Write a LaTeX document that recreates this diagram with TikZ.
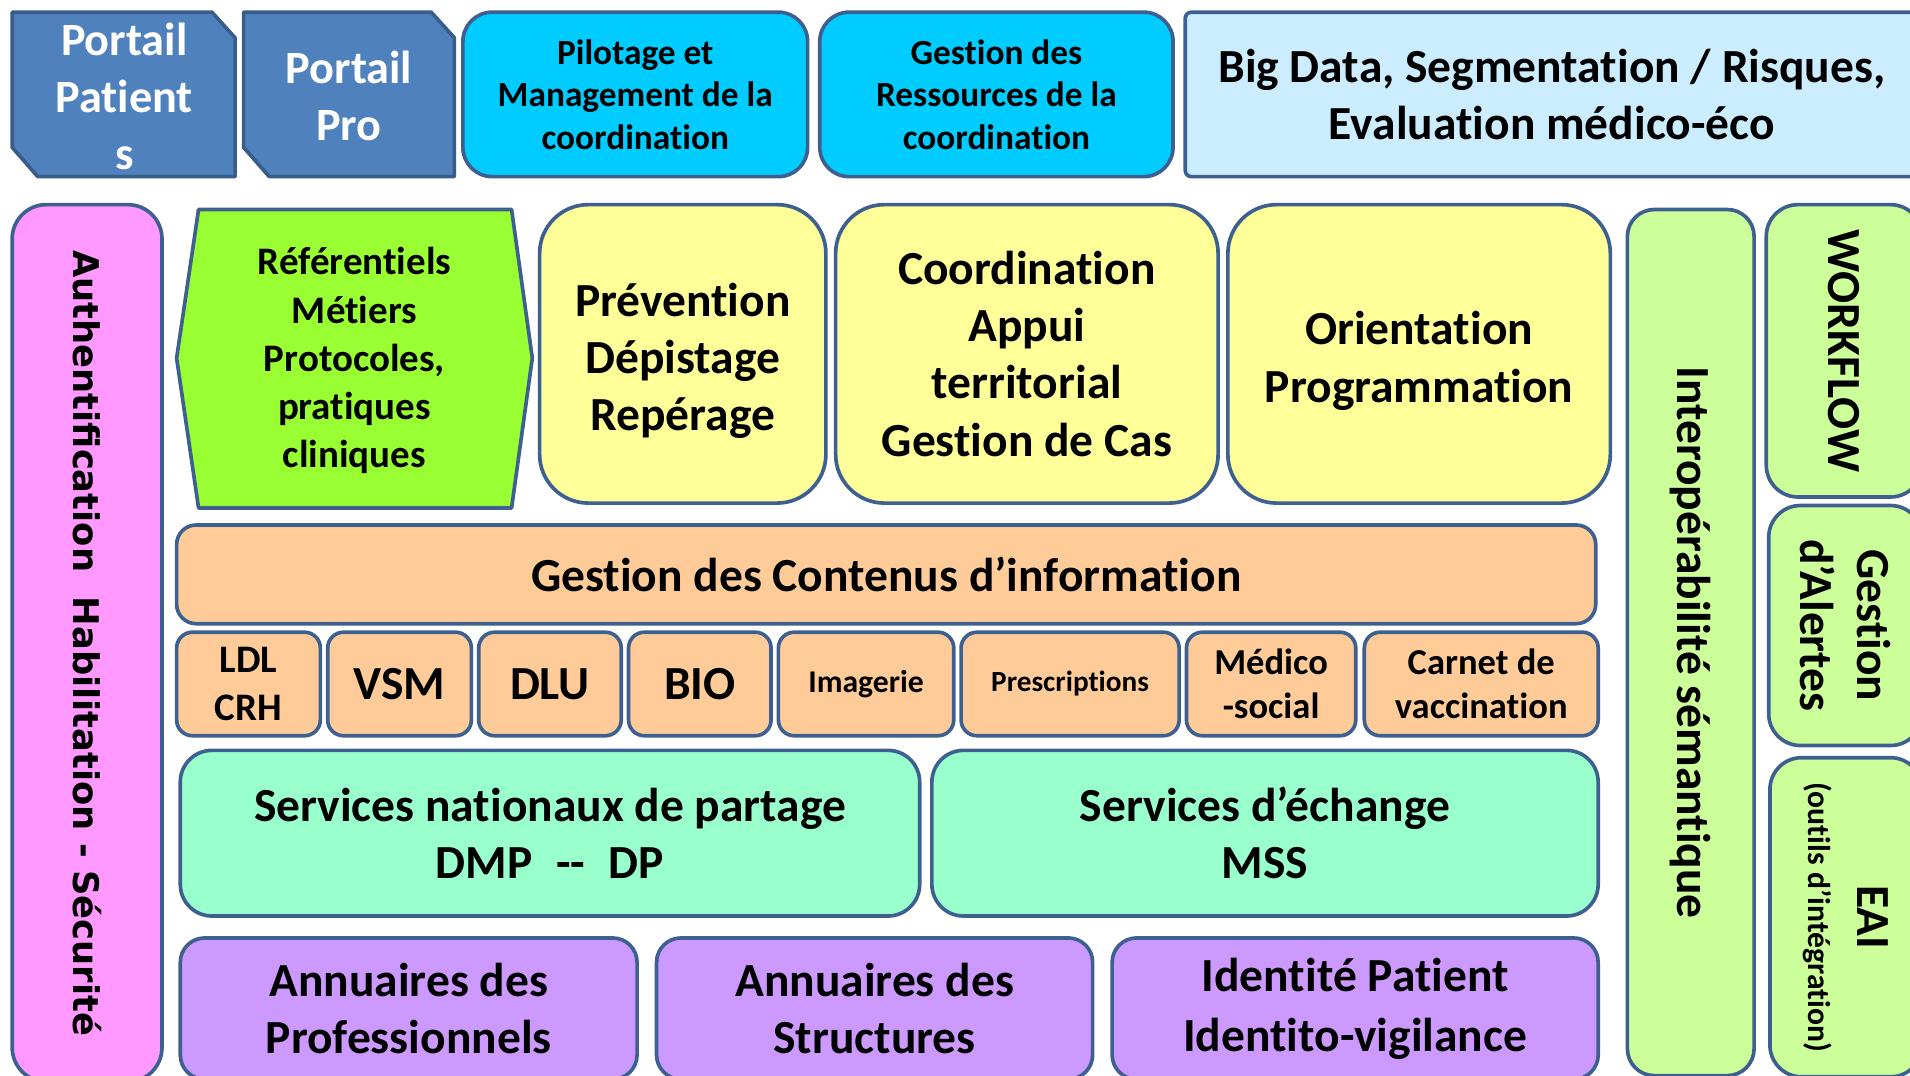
\documentclass[tikz,border=0pt]{standalone}
\usepackage{fontspec}
\setmainfont{Carlito}[Ligatures={TeX,NoCommon}]
\newfontfamily\authfont{DejaVu Sans}
\definecolor{edgeblue}{HTML}{3D6090}
\definecolor{portailblue}{HTML}{4F81BD}
\definecolor{portailedge}{HTML}{385D8A}
\definecolor{cyanbox}{HTML}{00CCFF}
\definecolor{skybox}{HTML}{CCECFF}
\definecolor{pinkbox}{HTML}{FF99FF}
\definecolor{limebox}{HTML}{99FF33}
\definecolor{yellowbox}{HTML}{FFFF99}
\definecolor{orangebox}{HTML}{FFCC99}
\definecolor{mintbox}{HTML}{99FFCC}
\definecolor{purplebox}{HTML}{CC99FF}
\definecolor{palegreen}{HTML}{CCFF99}
\newcommand{\sizeL}{\fontsize{39}{47}\selectfont\bfseries}
\newcommand{\sizeR}{\fontsize{32}{39.5}\selectfont\bfseries}
\newcommand{\sizeM}{\fontsize{29}{35}\selectfont\bfseries}
\newcommand{\sizeS}{\fontsize{30}{36}\selectfont\bfseries}
\newcommand{\sizeAuth}{\authfont\fontsize{29}{35}\selectfont\bfseries}
\tikzset{
  box/.style={draw=edgeblue,line width=3pt,rounded corners=#1,inner sep=0pt,align=center,text=black},
  box/.default=20pt,
  portail/.style={draw=portailedge,line width=3pt,fill=portailblue,line join=round},
  portailtext/.style={align=center,text=white,font=\fontsize{38}{47}\selectfont\bfseries}
}

\begin{document}
\begin{tikzpicture}[x=1pt,y=-1pt]
  \useasboundingbox (0,0) rectangle (1568,883);
  \clip (0,0) rectangle (1568,883);
  % portals
  \draw[portail] (10,10) -- (174,10) -- (193,31) -- (193,145) -- (31,145) -- (10,121) -- cycle;
  \node[portailtext] (patient) at (102,79) {Portail\\Patient\\s};
  \draw[portail] (200,10) -- (354,10) -- (373,31) -- (373,145) -- (221,145) -- (200,121) -- cycle;
  \node[portailtext] (pro) at (286.5,79) {Portail\\Pro};
  % top row
  \node[box=24pt,fill=cyanbox,minimum width=283,minimum height=135,font=\sizeM] (pilotage) at (521.5,77.5) {Pilotage et\\Management de la\\coordination};
  \node[box=24pt,fill=cyanbox,minimum width=290,minimum height=135,font=\sizeM] (ressources) at (818,77.5) {Gestion des\\Ressources de la\\coordination};
  \node[box=5pt,fill=skybox,minimum width=602,minimum height=135,font=\sizeL] (bigdata) at (1274,77.5) {Big Data, Segmentation / Risques,\\Evaluation médico-éco};
  % left column
  \node[box=28pt,fill=pinkbox,rotate=-90,minimum width=720,minimum height=123,font=\sizeAuth] (auth) at (71.5,528) {Authentification\ \ Habilitation - Sécurité};
  % metiers
  \draw[draw=edgeblue,line width=3pt,fill=limebox,line join=round] (163,172) -- (420,172) -- (437,294) -- (420,417) -- (163,417) -- (145,294) -- cycle;
  \node[align=center,font=\sizeR] (referentiels) at (291,296) {Référentiels\\Métiers\\Protocoles,\\pratiques\\cliniques};
  \node[box=40pt,fill=yellowbox,minimum width=235,minimum height=245,font=\sizeL] (prevention) at (560.5,290.5) {\\[-8pt]Prévention\\Dépistage\\Repérage};
  \node[box=40pt,fill=yellowbox,minimum width=314,minimum height=245,font=\sizeL] (coordination) at (843,290.5) {Coordination\\Appui\\territorial\\Gestion de Cas};
  \node[box=40pt,fill=yellowbox,minimum width=314,minimum height=245,font=\sizeL] (orientation) at (1165,290.5) {\\[-8pt]Orientation\\Programmation};
  % contenus
  \node[box=16pt,fill=orangebox,minimum width=1165,minimum height=81,font=\sizeL] (contenus) at (727.5,471.5) {Gestion des Contenus d’information};
  \node[box=13pt,fill=orangebox,minimum width=118,minimum height=85,font=\sizeR] (ldl) at (204,561.5) {LDL\\CRH};
  \node[box=13pt,fill=orangebox,minimum width=118,minimum height=85,font=\sizeL] (vsm) at (328,561.5) {VSM};
  \node[box=13pt,fill=orangebox,minimum width=117,minimum height=85,font=\sizeL] (dlu) at (451.5,561.5) {DLU};
  \node[box=13pt,fill=orangebox,minimum width=117,minimum height=85,font=\sizeL] (bio) at (574.5,561.5) {BIO};
  \node[box=13pt,fill=orangebox,minimum width=144,minimum height=85,font=\fontsize{26}{31}\selectfont\bfseries] (imagerie) at (711,561.5) {Imagerie};
  \node[box=13pt,fill=orangebox,minimum width=179,minimum height=85,font=\fontsize{24}{29}\selectfont\bfseries] (prescriptions) at (878.5,561.5) {Prescriptions};
  \node[box=13pt,fill=orangebox,minimum width=139,minimum height=85,font=\sizeS] (medico) at (1043.5,561.5) {Médico\\-social};
  \node[box=13pt,fill=orangebox,minimum width=192,minimum height=85,font=\sizeS] (carnet) at (1216,561.5) {Carnet de\\vaccination};
  % services
  \node[box=26pt,fill=mintbox,minimum width=607,minimum height=136,font=\sizeL] (partage) at (451.5,684) {Services nationaux de partage\\DMP\enspace{-}{-}\enspace DP};
  \node[box=26pt,fill=mintbox,minimum width=547,minimum height=136,font=\sizeL] (echange) at (1038.5,684) {Services d’échange\\MSS};
  % annuaires
  \node[box=20pt,fill=purplebox,minimum width=375,minimum height=116,font=\sizeL] (annpro) at (335.5,828) {Annuaires des\\Professionnels};
  \node[box=20pt,fill=purplebox,minimum width=358,minimum height=116,font=\sizeL] (annstruct) at (718,828) {Annuaires des\\Structures};
  \node[box=20pt,fill=purplebox,minimum width=399,minimum height=116,font=\sizeL] (identite) at (1112.5,828) {Identité Patient\\[2pt]Identito-vigilance};
  % right columns
  \node[box=22pt,fill=palegreen,rotate=-90,minimum width=711,minimum height=104,font=\sizeL] (interop) at (1388,527.5) {Interopérabilité sémantique};
  \node[box=26pt,fill=palegreen,rotate=-90,minimum width=240,minimum height=128,font=\sizeL] (workflow) at (1514,288) {WORKFLOW};
  \node[box=26pt,fill=palegreen,rotate=-90,minimum width=197,minimum height=126,font=\sizeL] (alertes) at (1515,513.5) {Gestion\\d’Alertes};
  \node[box=26pt,fill=palegreen,rotate=-90,minimum width=262,minimum height=125,font=\fontsize{26}{40}\selectfont\bfseries] (eai) at (1515.5,753) {{\sizeL EAI}\\(outils d’intégration)};
\end{tikzpicture}
\end{document}
